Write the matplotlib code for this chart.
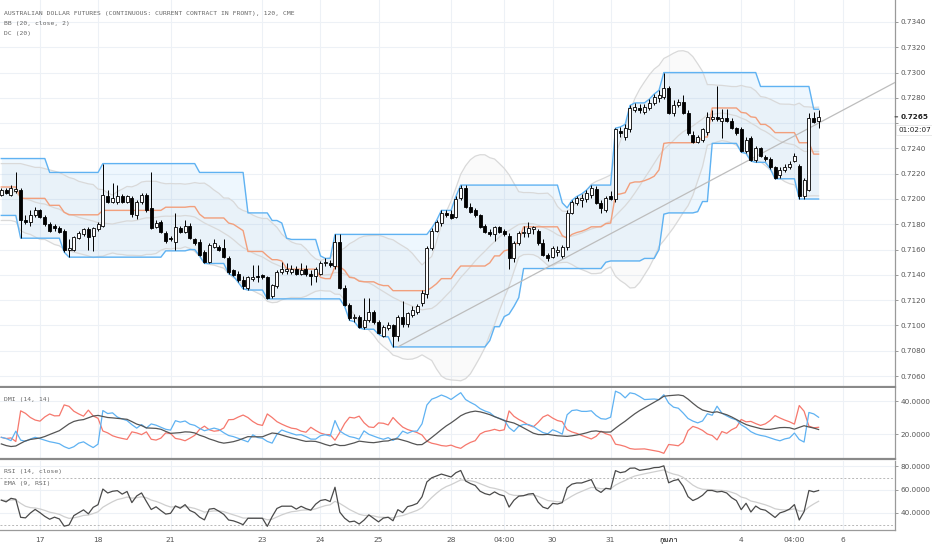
import numpy as np
import pandas as pd
import matplotlib
matplotlib.use("Agg")
import matplotlib.pyplot as plt
from matplotlib import font_manager

# --- 2h candles, AUD futures (bar index 0 .. 169)
opens = [
    .7203, .7207, .7203, .7206, .7207, .7183, .7182, .7187, .7191, .7186,
    .7180, .7179, .7177, .7175, .7160, .7160, .7169, .7172, .7176, .7171,
    .7176, .7179, .7202, .7198, .7198, .7202, .7198, .7201, .7187, .7198,
    .7203, .7193, .7178, .7182, .7173, .7169, .7166, .7177, .7174, .7179,
    .7168, .7166, .7158, .7150, .7162, .7162, .7161, .7153, .7144, .7141,
    .7136, .7130, .7137, .7139, .7140, .7138, .7123, .7131, .7142, .7143,
    .7142, .7145, .7141, .7145, .7141, .7139, .7141, .7149, .7149, .7147,
    .7166, .7130, .7116, .7106, .7107, .7099, .7104, .7111, .7103, .7092,
    .7098, .7100, .7092, .7107, .7101, .7108, .7111, .7118, .7125, .7161,
    .7175, .7181, .7189, .7188, .7186, .7201, .7209, .7194, .7191, .7187,
    .7179, .7174, .7172, .7178, .7175, .7171, .7153, .7165, .7173, .7173,
    .7176, .7175, .7165, .7156, .7154, .7158, .7155, .7162, .7189, .7197,
    .7199, .7200, .7203, .7208, .7197, .7191, .7202, .7200, .7254, .7249,
    .7255, .7270, .7272, .7269, .7272, .7276, .7280, .7281, .7288, .7268,
    .7274, .7277, .7268, .7251, .7245, .7247, .7253, .7263, .7265, .7262,
    .7264, .7262, .7256, .7255, .7238, .7248, .7231, .7240, .7233, .7232,
    .7225, .7219, .7223, .7225, .7230, .7226, .7202, .7207, .7264, .7262,
]
highs = [
    .7209, .7209, .7211, .7221, .7209, .7187, .7191, .7194, .7192, .7187,
    .7182, .7180, .7179, .7176, .7168, .7171, .7175, .7177, .7178, .7178,
    .7182, .7228, .7207, .7213, .7211, .7204, .7203, .7202, .7199, .7205,
    .7205, .7221, .7183, .7183, .7175, .7171, .7189, .7179, .7183, .7181,
    .7169, .7168, .7160, .7165, .7168, .7164, .7168, .7155, .7145, .7143,
    .7139, .7139, .7148, .7148, .7141, .7139, .7133, .7144, .7150, .7149,
    .7148, .7147, .7149, .7148, .7144, .7146, .7151, .7153, .7152, .7172,
    .7172, .7132, .7118, .7109, .7108, .7122, .7122, .7112, .7104, .7100,
    .7103, .7101, .7108, .7119, .7111, .7115, .7117, .7128, .7163, .7177,
    .7183, .7191, .7191, .7191, .7202, .7211, .7211, .7197, .7193, .7188,
    .7180, .7176, .7179, .7179, .7176, .7173, .7167, .7175, .7179, .7182,
    .7179, .7176, .7168, .7157, .7163, .7163, .7164, .7191, .7199, .7202,
    .7204, .7207, .7211, .7210, .7199, .7202, .7206, .7256, .7257, .7259,
    .7274, .7276, .7275, .7275, .7279, .7283, .7286, .7300, .7289, .7278,
    .7279, .7282, .7270, .7254, .7251, .7256, .7269, .7270, .7289, .7271,
    .7271, .7264, .7257, .7257, .7249, .7250, .7242, .7241, .7235, .7233,
    .7226, .7225, .7228, .7230, .7236, .7228, .7217, .7268, .7269, .7270,
]
lows = [
    .7202, .7204, .7202, .7205, .7169, .7180, .7179, .7186, .7185, .7179,
    .7174, .7175, .7173, .7158, .7154, .7159, .7168, .7171, .7160, .7159,
    .7175, .7178, .7197, .7197, .7196, .7197, .7197, .7186, .7184, .7196,
    .7190, .7176, .7177, .7173, .7165, .7167, .7160, .7173, .7173, .7168,
    .7164, .7155, .7149, .7149, .7161, .7159, .7153, .7141, .7139, .7134,
    .7129, .7128, .7135, .7134, .7137, .7121, .7122, .7130, .7141, .7141,
    .7141, .7140, .7140, .7139, .7132, .7134, .7140, .7147, .7146, .7145,
    .7129, .7115, .7104, .7103, .7098, .7097, .7103, .7101, .7093, .7091,
    .7096, .7083, .7088, .7099, .7099, .7107, .7109, .7115, .7122, .7160,
    .7174, .7179, .7186, .7184, .7185, .7199, .7193, .7189, .7186, .7177,
    .7173, .7171, .7167, .7173, .7171, .7145, .7150, .7164, .7170, .7170,
    .7172, .7164, .7155, .7151, .7153, .7155, .7153, .7160, .7188, .7195,
    .7194, .7198, .7201, .7196, .7189, .7190, .7199, .7198, .7249, .7247,
    .7253, .7269, .7268, .7267, .7270, .7274, .7277, .7279, .7267, .7266,
    .7273, .7267, .7251, .7244, .7244, .7245, .7251, .7262, .7262, .7248,
    .7261, .7255, .7251, .7237, .7236, .7230, .7229, .7233, .7230, .7224,
    .7216, .7217, .7221, .7224, .7229, .7200, .7200, .7206, .7260, .7256,
]
closes = [
    .7207, .7205, .7209, .7208, .7183, .7182, .7187, .7191, .7186, .7180,
    .7175, .7177, .7174, .7160, .7161, .7170, .7173, .7176, .7170, .7177,
    .7180, .7203, .7198, .7201, .7202, .7198, .7202, .7188, .7198, .7203,
    .7191, .7177, .7181, .7174, .7167, .7168, .7178, .7174, .7179, .7169,
    .7165, .7156, .7150, .7164, .7165, .7160, .7154, .7142, .7140, .7136,
    .7131, .7138, .7138, .7138, .7138, .7122, .7132, .7142, .7145, .7145,
    .7145, .7141, .7144, .7141, .7139, .7145, .7149, .7150, .7148, .7166,
    .7130, .7116, .7106, .7107, .7099, .7104, .7111, .7103, .7094, .7099,
    .7100, .7092, .7107, .7101, .7110, .7112, .7115, .7126, .7161, .7175,
    .7182, .7189, .7187, .7185, .7200, .7209, .7194, .7190, .7187, .7178,
    .7174, .7172, .7178, .7174, .7172, .7153, .7165, .7173, .7174, .7177,
    .7178, .7165, .7156, .7153, .7161, .7160, .7162, .7189, .7198, .7201,
    .7201, .7205, .7209, .7197, .7193, .7201, .7200, .7255, .7252, .7256,
    .7272, .7273, .7270, .7273, .7276, .7281, .7282, .7288, .7268, .7274,
    .7277, .7268, .7252, .7245, .7249, .7255, .7265, .7265, .7263, .7264,
    .7262, .7256, .7252, .7238, .7247, .7231, .7240, .7234, .7232, .7225,
    .7217, .7223, .7225, .7228, .7234, .7202, .7215, .7264, .7261, .7265,
]

# day labels and the bar they sit on
day_ticks = [8, 20, 35, 54, 66, 78, 93, 104, 114, 126, 138, 153, 164, 174]
day_labels = ['17', '18', '21', '23', '24', '25', '28', '04:00', '30', '31',
              'กุมภา', '4', '04:00', '6']

price_ticks = [0.7060, 0.7080, 0.7100, 0.7120, 0.7140, 0.7160, 0.7180, 0.7200,
               0.7220, 0.7240, 0.7260, 0.7280, 0.7300, 0.7320, 0.7340]
dmi_ticks = [20, 40]
rsi_ticks = [40, 60, 80]

# indicator state before the first visible bar
dc_upper_prior = [0.7232] * 10
dc_lower_prior = [0.7187] * 4
bb_upper_head = [.7228, .7228, .7228, .7228, .7228, .7227, .7226, .7225, .7225, .7224,
                 .7223, .7222, .7221, .7219, .7217, .7216, .7214, .7213, .7212]
bb_lower_head = [.7183, .7183, .7183, .7182, .7175, .7173, .7172, .7170, .7168, .7168,
                 .7166, .7164, .7163, .7160, .7159, .7158, .7157, .7156, .7155]
di_plus_start, di_minus_start, adx_start, atr_start = 18.0, 18.0, 14.0, 0.0009
rsi_gain_start, rsi_loss_start = 0.00026, 0.00025

# drawn trend line (two anchors, extends right)
trend_x = [82, 168]
trend_y = [0.7083, 0.7258]

countdown = '01:02:07'


def find_thai_font():
	try:
		from fontTools.ttLib import TTFont
	except ImportError:
		return None
	for f in font_manager.fontManager.ttflist:
		try:
			tt = TTFont(f.fname, fontNumber=0, lazy=True)
			if 0x0E01 in tt.getBestCmap():
				return f.name
		except Exception:
			pass
	return None


def donchian(h, l, n=20):
	up = pd.Series(h).rolling(n, min_periods=1).max().values
	lo = pd.Series(l).rolling(n, min_periods=1).min().values
	k = len(dc_upper_prior)
	up[:k] = np.maximum(up[:k], dc_upper_prior)
	k = len(dc_lower_prior)
	lo[:k] = np.minimum(lo[:k], dc_lower_prior)
	return up, lo


def bollinger(c, n=20, mult=2):
	s = pd.Series(c)
	mid = s.rolling(n).mean().values
	sd = s.rolling(n).std(ddof=0).values
	up = mid + mult * sd
	lo = mid - mult * sd
	k = len(bb_upper_head)
	up[:k] = bb_upper_head
	lo[:k] = bb_lower_head
	mid[:k] = (np.array(bb_upper_head) + np.array(bb_lower_head)) / 2
	return up, mid, lo


def dmi(h, l, c, n=14):
	atr = atr_start
	sp = di_plus_start / 100 * atr
	sm = di_minus_start / 100 * atr
	adx = adx_start
	plus, minus, adxs = [di_plus_start], [di_minus_start], [adx_start]
	for t in range(1, len(c)):
		up = h[t] - h[t-1]
		dn = l[t-1] - l[t]
		pdm = up if (up > dn and up > 0) else 0.0
		mdm = dn if (dn > up and dn > 0) else 0.0
		tr = max(h[t] - l[t], abs(h[t] - c[t-1]), abs(l[t] - c[t-1]))
		atr += (tr - atr) / n
		sp += (pdm - sp) / n
		sm += (mdm - sm) / n
		p = 100 * sp / atr
		m = 100 * sm / atr
		dx = 100 * abs(p - m) / (p + m) if p + m > 0 else 0.0
		adx += (dx - adx) / n
		plus.append(p); minus.append(m); adxs.append(adx)
	return np.array(plus), np.array(minus), np.array(adxs)


def rsi(c, n=14):
	g, lo = rsi_gain_start, rsi_loss_start
	out = [100 - 100 / (1 + g / lo)]
	for ch in np.diff(c):
		g += (max(ch, 0) - g) / n
		lo += (max(-ch, 0) - lo) / n
		out.append(100 - 100 / (1 + g / lo))
	return np.array(out)


x = np.arange(len(closes))
o, h, l, c = map(np.array, (opens, highs, lows, closes))

dc_up, dc_lo = donchian(h, l)
dc_mid = (dc_up + dc_lo) / 2
bb_up, bb_mid, bb_lo = bollinger(c)
di_p, di_m, adx = dmi(h, l, c)
rsi_v = rsi(c)
rsi_ema = pd.Series(rsi_v).ewm(span=9, adjust=False).mean().values

W, H = 932, 550
fig = plt.figure(figsize=(W / 100, H / 100), dpi=100)
ax = fig.add_axes([0, 1 - 387 / H, 895 / W, 387 / H])
ax_dmi = fig.add_axes([0, 1 - 459 / H, 895 / W, 71 / H])
ax_rsi = fig.add_axes([0, 1 - 530 / H, 895 / W, 69 / H])

GRID = '#edf1f6'
LBL = '#555555'
xlim = (-0.27, 184.8)

for a in (ax, ax_dmi, ax_rsi):
	a.set_xlim(*xlim)
	a.set_xticks(day_ticks)
	a.grid(True, color=GRID, lw=0.8)
	a.set_axisbelow(True)
	a.yaxis.tick_right()
	a.tick_params(axis='y', length=2.5, width=0.7, color='#999999', labelsize=5.2,
	              labelcolor=LBL, pad=1.5)
	a.tick_params(axis='x', length=0)
	a.spines['left'].set_visible(False)
	a.spines['top'].set_visible(False)
	a.spines['right'].set_color('#9a9a9a')
	a.spines['right'].set_linewidth(0.9)
	a.set_facecolor('white')

ax.spines['bottom'].set_color('#8a8a8a')
ax.spines['bottom'].set_linewidth(1.6)
ax_dmi.spines['bottom'].set_color('#8a8a8a')
ax_dmi.spines['bottom'].set_linewidth(1.6)
ax_rsi.spines['bottom'].set_color('#9a9a9a')
ax_rsi.spines['bottom'].set_linewidth(0.9)

# ---- main price panel
ax.set_ylim(0.70513, 0.73574)
ax.set_yticks(price_ticks)
ax.set_yticklabels(['' if abs(p - 0.7260) < 1e-6 else f'{p:.4f}' for p in price_ticks])
ax.set_xticklabels([])

ax.fill_between(x, bb_lo, bb_up, color='#9e9e9e', alpha=0.045, lw=0, zorder=1)
ax.fill_between(x, dc_lo, dc_up, color='#2196f3', alpha=0.075, lw=0, zorder=1.1)
for band in (bb_up, bb_mid, bb_lo):
	ax.plot(x, band, color='#d9d9d9', lw=0.9, zorder=2)
ax.plot(x, dc_up, color='#5fb2f2', lw=1.0, zorder=2.5)
ax.plot(x, dc_lo, color='#5fb2f2', lw=1.0, zorder=2.5)
ax.plot(x, dc_mid, color='#f29f7c', lw=1.0, zorder=2.5)

slope = (trend_y[1] - trend_y[0]) / (trend_x[1] - trend_x[0])
ax.plot([trend_x[0], xlim[1]], [trend_y[0], trend_y[0] + slope * (xlim[1] - trend_x[0])],
        color='#bdbdbd', lw=0.9, zorder=3)

up = c >= o
ax.vlines(x, l, h, color='black', lw=0.7, zorder=4)
body_h = np.maximum(np.abs(c - o), 0.00004)
ax.bar(x, body_h, width=0.62, bottom=np.minimum(o, c),
       color=np.where(up, 'white', 'black'), edgecolor='black', lw=0.6, zorder=5)

mono = 'DejaVu Sans Mono'
ax.text(4 / 895, 1 - 13 / 387, 'AUSTRALIAN DOLLAR FUTURES (CONTINUOUS: CURRENT CONTRACT IN FRONT), 120, CME',
        transform=ax.transAxes, fontsize=4.6, family=mono, color='#666666', va='center')
ax.text(4 / 895, 1 - 24 / 387, 'BB (20, close, 2)', transform=ax.transAxes,
        fontsize=4.6, family=mono, color='#666666', va='center')
ax.text(4 / 895, 1 - 34 / 387, 'DC (20)', transform=ax.transAxes,
        fontsize=4.6, family=mono, color='#666666', va='center')

last = c[-1]
ax.annotate(f'{last:.4f}', xy=(1, last), xycoords=ax.get_yaxis_transform(),
            xytext=(3.8, 0), textcoords='offset points', va='center', ha='left',
            fontsize=5.2, fontweight='bold', color='#222222', annotation_clip=False)
ax.annotate('', xy=(1, last), xycoords=ax.get_yaxis_transform(),
            xytext=(1.9, 0), textcoords='offset points', annotation_clip=False,
            arrowprops=dict(arrowstyle='-', color='#444444', lw=0.8,
                            shrinkA=0, shrinkB=0))
ax.annotate(countdown, xy=(1, last), xycoords=ax.get_yaxis_transform(),
            xytext=(2.3, -9.3), textcoords='offset points', va='center', ha='left',
            fontsize=5.2, color='#222222', annotation_clip=False,
            bbox=dict(boxstyle='square,pad=0.25', fc='white', ec='#e2e2e2', lw=0.5))

# ---- DMI panel
ax_dmi.set_ylim(4.85, 47.9)
ax_dmi.set_yticks(dmi_ticks)
ax_dmi.set_yticklabels([f'{v:.4f}' for v in dmi_ticks])
ax_dmi.set_xticklabels([])
ax_dmi.plot(x, di_m, color='#f6786d', lw=0.9)
ax_dmi.plot(x, di_p, color='#5fb2f2', lw=0.9)
ax_dmi.plot(x, adx, color='#555555', lw=0.9)
ax_dmi.text(4 / 895, 1 - 12 / 71, 'DMI (14, 14)', transform=ax_dmi.transAxes,
            fontsize=4.6, family=mono, color='#666666', va='center')

# ---- RSI panel
ax_rsi.set_ylim(25.5, 84.3)
ax_rsi.set_yticks(rsi_ticks)
ax_rsi.set_yticklabels([f'{v:.4f}' for v in rsi_ticks])
ax_rsi.axhline(70, color='#b8b8b8', lw=0.7, ls=(0, (2, 2)))
ax_rsi.axhline(30, color='#b8b8b8', lw=0.7, ls=(0, (2, 2)))
ax_rsi.plot(x, rsi_ema, color='#cfcfcf', lw=0.9)
ax_rsi.plot(x, rsi_v, color='#4a4a4a', lw=0.9)
ax_rsi.text(4 / 895, 1 - 11 / 69, 'RSI (14, close)', transform=ax_rsi.transAxes,
            fontsize=4.6, family=mono, color='#666666', va='center')
ax_rsi.text(4 / 895, 1 - 23 / 69, 'EMA (9, RSI)', transform=ax_rsi.transAxes,
            fontsize=4.6, family=mono, color='#666666', va='center')

ax_rsi.set_xticklabels(day_labels)
ax_rsi.tick_params(axis='x', labelsize=5.4, labelcolor=LBL, pad=5)
thai = find_thai_font()
for t in ax_rsi.get_xticklabels():
	if t.get_text() == 'กุมภา':
		t.set_fontweight('bold')
		t.set_color('#333333')
		if thai:
			t.set_family([thai, 'DejaVu Sans'])

fig.savefig('out.png', dpi=100, facecolor='white')
